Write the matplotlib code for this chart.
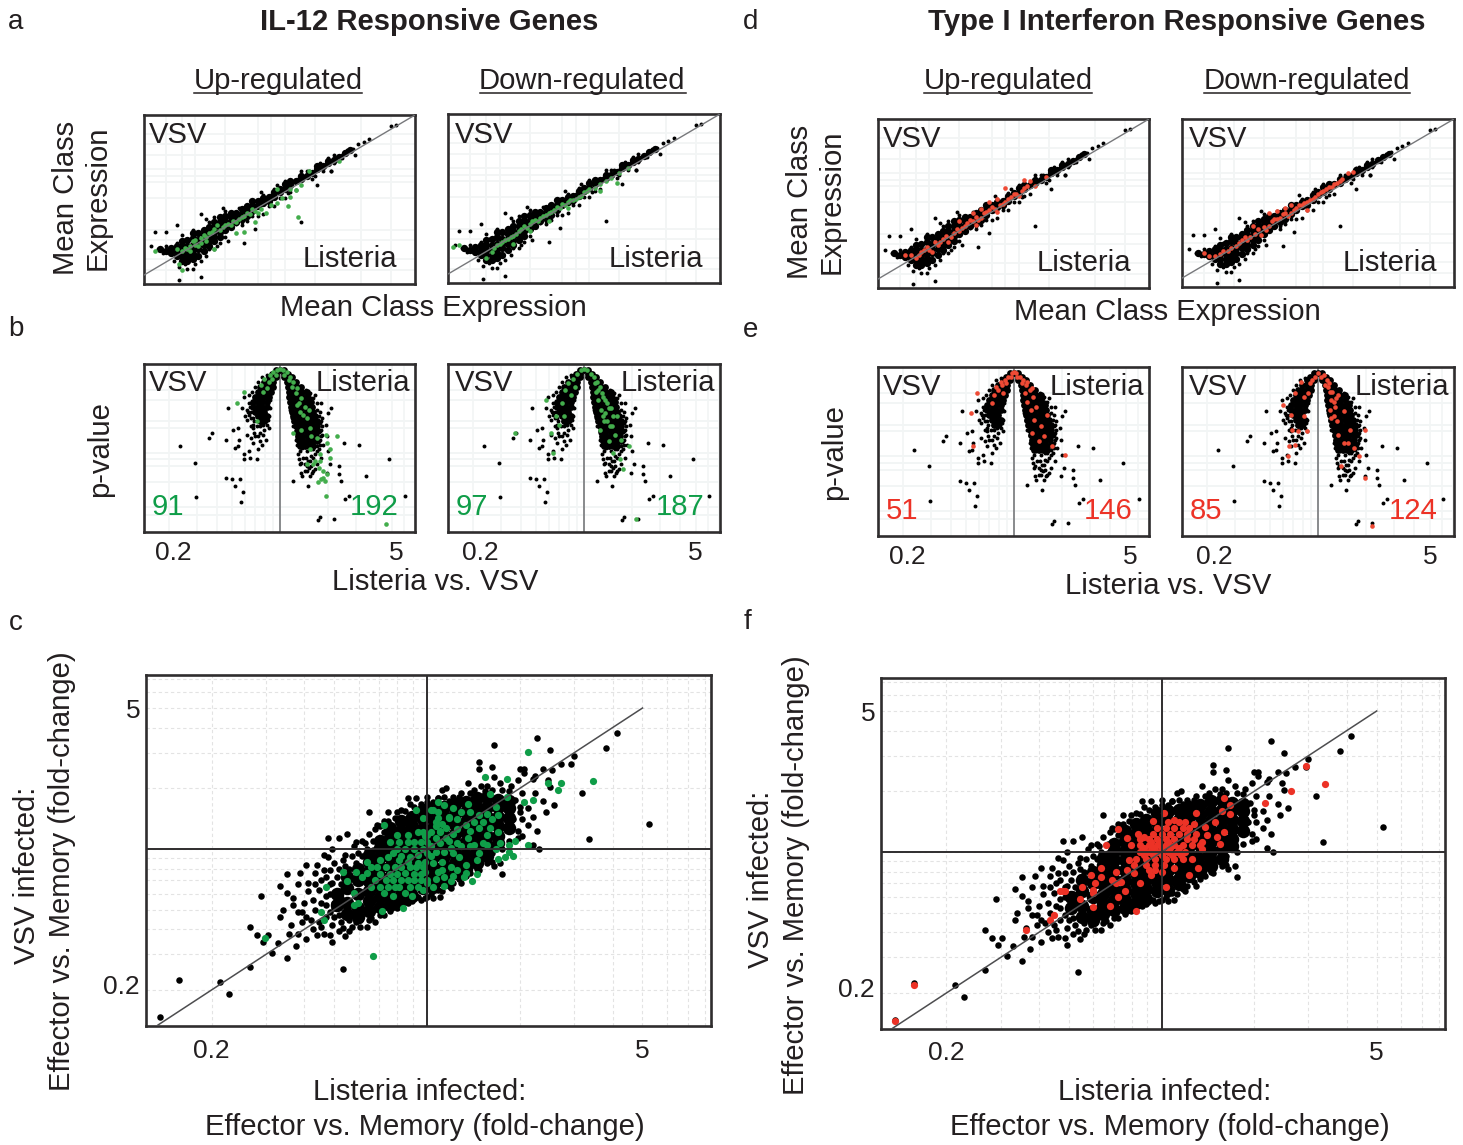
import numpy as np
import matplotlib
matplotlib.use("Agg")
import matplotlib.pyplot as plt
from matplotlib.lines import Line2D
from matplotlib.ticker import FixedLocator, NullFormatter
from matplotlib.transforms import ScaledTranslation

plt.rcParams['font.family'] = ['Liberation Sans', 'DejaVu Sans']

W, H = 1463, 1145
INK = '#231f20'
GREEN = '#0f9d48'
GREEN_SOFT = '#43ad4c'
RED = '#ec3226'
RED_SOFT = '#ee4a35'

# ---- fold-change scatter, both axes as percent of a log5 unit ----
# dense body, per x column: (x, [y...])
FC_BODY = [
    (-42, [-32, -40]), (-37, [-20, -28, -38, -46]), (-32, [-14, -22, -32, -42, -48]),
    (-27, [-4, -9, -16, -23, -30, -37, -44]), (-22, [6, 1, -6, -13, -20, -27, -34, -41]),
    (-17, [15, 8, 1, -6, -13, -20, -27, -34, -40]), (-12, [20, 13, 6, -1, -8, -15, -22, -29, -36]),
    (-7, [23, 16, 9, 2, -5, -12, -19, -26, -33]), (-2, [28, 21, 14, 7, 0, -7, -14, -21, -28]),
    (3, [29, 22, 15, 8, 1, -6, -13, -20, -27]), (8, [30, 23, 16, 9, 2, -5, -12, -19, -23]),
    (13, [32, 25, 18, 11, 4, -3, -10, -17]), (18, [33, 26, 19, 12, 5, -2, -9, -14]),
    (23, [36, 29, 22, 15, 8, 1, -6, -10]), (28, [37, 30, 23, 16, 9, 2, -5]),
    (33, [35, 30, 23, 16, 9, 4]), (38, [34, 29, 22, 15]),
]
FC_SPREAD = [
    (-124, -119), (-115, -93), (-96, -94), (-92, -103), (-82, -84), (-72, -74), (-65, -77), (-76, -66),
    (-79, -61), (-82, -55), (-74, -61), (-77, -33), (-68, -26), (-65, -31), (-65, -18), (-59, -17),
    (-56, -11), (-55, -24), (-62, -35), (-62, -40), (-67, -43), (-68, -48), (-57, -38), (-53, -36),
    (-58, -45), (-56, -48), (-63, -54), (-64, -60), (-60, -60), (-69, -67), (-61, -69), (-56, -64),
    (-53, -57), (-51, -61), (-48, -60), (-45, -61), (-44, -66), (-44, -54), (-39, -56), (-39, -85),
    (-51, -11), (-48, -4), (-46, 8), (-41, 8), (-37, 11), (-44, 0), (-46, -6), (-52, -17), (-50, -29),
    (-49, -38), (-52, -43), (-44, -24), (-27, 26), (-18, 26), (-14, 26), (-23, 17), (-27, 11), (-32, -3),
    (-39, -8), (-33, -52), (-26, -49), (-9, 36), (5, 36), (-14, -42), (-9, -38), (0, -34),
    (31, 74), (51, 79), (57, 70), (88, 82), (83, 72), (68, 66), (67, 60), (62, 60), (58, 56), (54, 57),
    (50, 52), (49, 50), (45, 57), (43, 57), (45, 54), (30, 58), (24, 62), (24, 57), (31, 51), (56, 49),
    (57, 44), (50, 40), (54, 34), (59, 31), (55, 26), (49, 23), (51, 13), (47, 29), (72, 40), (75, 7),
    (103, 18), (52, 0), (49, 3), (35, -18), (31, -12), (28, -6), (34, -10), (42, 13), (40, 21), (43, 26),
    (42, 49), (39, 45), (34, 47), (28, 45), (25, 45), (19, 47), (16, 40), (9, 43), (7, 42), (5, 36),
    (16, -24), (11, -28), (6, -34), (3, -35), (-1, -35), (5, -29), (-42, -20), (-41, -47), (-40, -52),
    (-36, -50), (-31, -55), (-24, -52), (-20, -47), (-43, -10), (-33, 5), (-29, 4), (-24, 14), (-20, 20),
    (-12, 28), (-6, 30), (0, 33), (12, 37), (44, 40), (47, 17), (44, 9), (30, -9), (24, -15), (18, -19),
    (12, -24), (-4, -34), (-11, -37),
]
FC_EDGE = [
    (-47, -20), (-47, -33), (-47, -40), (-45, -15), (-45, -25), (-45, -32), (-45, -45), (-43, -38), (-43, -42),
    (-43, -48), (-41, -14), (-41, -30), (-41, -58), (-38, -4), (-38, -12), (-38, -62), (-36, -58), (-35, -5),
    (-34, 2), (-30, 6), (-28, -55), (-25, 6), (-22, 16), (-18, 20), (-15, 22), (-10, 27), (-8, 32), (-3, 32),
    (-5, 36), (0, 37), (3, 33), (8, 37), (10, 34), (15, 37), (20, 40), (22, 42), (27, 41), (30, 42), (35, 42),
    (38, 41), (41, 35), (43, 30), (44, 21), (42, 8), (38, 6), (35, 0), (30, -3), (28, -10), (23, -14), (20, -17),
    (15, -21), (10, -26), (7, -30), (2, -32), (-3, -36), (-7, -37), (-14, -40), (-17, -44), (-22, -47), (-27, -50),
    (-31, -50), (-35, -55), (-60, -45), (-58, -52), (-54, -50), (-50, -52), (-47, -48), (-49, -55), (-60, -25),
    (-55, -30), (-52, -25), (-48, -15), (-49, -22), (-40, -25), (-40, -35), (-38, -18), (-36, -14), (-33, -10),
    (-30, -5), (-28, 0), (-25, -1), (-20, 12), (-37, -44), (-34, -47),
]
FC_GREEN = [
    (-20, 17), (-75, -63), (-25, -76), (-49, -45), (-48, -50), (-21, -44), (-11, -42), (-39, -16), (-47, -27),
    (-37, -23), (-33, -16), (-30, -20), (-34, -31), (-32, -38), (-34, -40), (-28, -9), (-20, -31), (-7, -33),
    (-17, 5), (-13, 5), (-9, 5), (-6, 5), (-3, 5), (0, 5), (-14, 0), (-10, 0), (-6, 0), (-2, 0),
    (-26, -13), (-23, -13), (-19, -13), (-15, -13), (-12, -13), (-8, -13), (-5, -13), (-2, -13),
    (-22, -18), (-17, -18), (-6, -18), (-3, -18), (-16, -22), (-12, -22), (-9, -22), (-6, -22), (-3, -22), (0, -22),
    (-22, -27), (-18, -27), (-15, -27), (-8, -27), (-4, -27), (-2, 22), (5, 22), (10, 22), (-2, 12), (2, 12), (6, 12),
    (-5, 28), (3, 28), (27, 51), (37, 50), (47, 69), (77, 48), (62, 47), (61, 42), (56, 47), (49, 35), (45, 33),
    (37, 37), (29, 39), (19, 32), (5, 33), (2, 28), (5, 26), (10, 23), (32, 30), (33, 24), (30, 21), (26, 19),
    (22, 19), (24, 15), (29, 15), (33, 12), (28, 10), (20, 13), (19, 8), (20, 2), (26, 4), (14, 21), (7, 18), (4, 19),
    (34, 4), (32, 0), (41, 6), (38, 3), (47, 3), (38, -2), (40, -5), (36, -6), (33, -7), (23, -8), (18, -11),
    (23, -18), (17, -20), (21, -23), (11, -13), (14, -15), (5, -16), (4, -21), (0, -24), (7, -9), (15, -6),
    (6, 4), (9, 8), (12, 11), (14, 4), (11, 1), (6, 13), (2, -5), (2, 2), (-1, 9), (-1, -9), (3, -10),
    (-16, -3), (-12, -5), (-8, -6), (-4, -4), (0, -3), (4, -2), (8, -2), (12, -3), (16, 2), (10, 6), (4, 8), (0, 10),
    (-4, 12), (-9, 10), (-14, 10), (4, 16), (9, 15), (14, 14), (18, 17), (24, 24), (28, 25), (20, 26), (16, 26), (12, 29),
    (8, 31), (22, 3), (24, -3), (28, 3), (18, -17), (12, -19), (8, -20), (7, -15), (-1, -16), (-10, -17), (-14, -18),
    (-19, -22), (-24, -22), (-13, -27), (-2, -29), (3, -27), (8, -26), (11, -23), (-10, -31), (-16, -33), (-26, -27),
    (-28, -17), (-4, -10), (-9, -9), (-13, -8), (-18, -6), (-22, -8),
]
FC_RED = [
    (-115, -94), (-124, -120), (-63, -55), (-50, -45), (-52, -48), (-46, -28), (-47, -28), (-20, 16), (-26, 5),
    (-4, 22), (1, 28), (-11, 13), (16, 28), (29, 38), (32, 33), (32, 27), (28, 29), (48, 35), (60, 43), (67, 61),
    (76, 48), (25, 21), (29, 14), (26, 11), (27, 6), (20, 18), (19, 7), (19, 2), (17, -11), (13, -16), (6, -11),
    (2, -25), (-10, -22), (-12, -42), (0, -14), (-6, -13), (-13, -15), (-16, -13), (-15, -6), (-28, -11), (-21, -14),
    (-33, -16), (-28, -18), (-31, -22), (-23, -20), (-19, -21), (-21, -22), (-37, -25), (-32, -27), (-32, -29),
    (-17, -28), (-20, -32), (-38, -33), (-32, -39), (-24, -38), (-45, -28), (-16, 10),
    (-10, 9), (-6, 9), (-2, 9), (2, 9), (6, 9), (12, 9), (15, 9), (-14, 5), (-10, 5), (-6, 5), (-2, 5), (2, 5),
    (6, 5), (10, 5), (14, 5), (18, 5), (-10, 0), (-6, 0), (-2, 0), (3, 0), (7, 0), (11, 0), (-12, -5), (-7, -5),
    (-3, -5), (2, -5), (6, -5), (10, -5), (14, -5), (-7, -9), (-3, -9), (1, -9), (-4, 13), (0, 13), (4, 13), (8, 13),
    (12, 13), (16, 13), (-2, 17), (2, 17), (6, 17), (10, 17), (13, 17), (3, 21), (8, 21), (11, 21),
    (-8, 3), (-4, 3), (0, 3), (4, 3), (8, 3), (-8, -2), (-4, -2), (0, -2), (5, -2), (9, -2), (-5, 7), (-1, 7), (3, 7),
    (-13, -9), (-5, -16), (-3, -13), (-8, 11), (21, 12), (15, 20), (6, 23),
]

# ---- mean class expression, arbitrary log units ----
MA_BODY = [
    (6, [16]), (8, [15]), (10, [14, 17]), (12, [12, 15, 18]), (14, [9, 12, 15, 18, 21]), (16, [9, 12, 15, 18, 22]),
    (18, [10, 13, 16, 19, 23, 26]), (20, [12, 16, 19, 22, 26]), (22, [15, 19, 22, 25, 28]), (24, [18, 21, 24, 27, 30]),
    (26, [21, 24, 27, 30, 33]), (28, [24, 27, 30, 33, 36]), (30, [28, 31, 34, 37]), (32, [30, 33, 36, 39]),
    (34, [33, 36, 39]), (36, [35, 38, 41]), (38, [37, 40, 43]), (40, [40, 43, 46]), (42, [43, 46]), (44, [45, 48]),
    (46, [46, 49]), (48, [49, 52]), (50, [52, 54]), (52, [54, 57]), (54, [56, 59]), (56, [59]), (58, [60, 62]),
    (60, [62]), (62, [64]), (64, [66, 68]), (66, [68]), (68, [70, 71]), (70, [72]), (72, [74]), (74, [76]), (76, [78]),
]
MA_SPREAD = [
    (2.5, 18), (4, 27), (8, 27), (12, 31), (13, -3), (21, -1), (14, 25), (18, 4), (15, 7), (21, 38), (23, 35), (29, 42),
    (31, 21), (37, 20), (27, 18), (26, 16), (43, 52), (41, 29), (58, 33), (49, 56), (58, 65), (64, 56), (69, 65), (78, 75),
    (79, 82), (83, 85), (91, 93), (93, 94), (81, 83), (74, 76), (24, 30), (32, 37), (35, 42), (38, 34), (21, 9), (24, 16),
    (28, 20), (17, 10), (11, 9), (13, 5), (7, 14), (5, 16), (8, 18), (12, 20), (15, 22), (18, 28), (34, 32), (44, 38),
    (46, 45), (53, 51), (56, 59), (61, 65), (65, 70), (70, 75), (75, 78), (69, 65), (16, 4), (19, 7), (23, 12), (30, 24),
    (36, 31), (42, 37), (48, 43), (52, 48), (56, 53), (62, 60),
    (59, 61), (61, 63), (63, 65), (65, 67), (67, 69), (69, 71), (71, 73), (73, 75), (75, 77), (77, 79), (63, 62), (66, 65),
    (70, 70), (73, 73), (60, 65), (64, 69), (68, 73), (41, 44), (43, 46), (45, 47), (47, 50), (49, 52), (51, 54), (53, 56),
    (55, 58), (57, 60), (39, 42), (37, 40), (35, 37), (33, 35), (31, 33), (29, 31), (46, 43), (50, 48), (54, 52), (40, 37),
    (36, 33), (44, 50), (48, 54), (52, 59), (26, 36), (24, 33), (30, 40),
]
MA_GREEN_UP = [
    (57, 36), (4, 15), (13, 7), (14, 3), (26, 16), (41, 33), (37, 27), (49, 45), (54, 49), (61, 65), (72, 71), (53, 43),
    (45, 39), (42, 39), (17, 18), (18, 21), (19, 22), (21, 23), (22, 25), (24, 26), (26, 29), (27, 31), (29, 30), (31, 32),
    (33, 34), (35, 35), (38, 39), (40, 41), (12, 16), (14, 15), (16, 16), (20, 18), (23, 21), (34, 26), (49, 54), (54, 54), (58, 56),
    (15, 17), (17, 15), (19, 19), (21, 20), (23, 24), (25, 27), (28, 28), (30, 31), (32, 31), (34, 33), (36, 36), (37, 37), (39, 38),
    (41, 40), (43, 41), (47, 44), (51, 48), (56, 53),
]
MA_GREEN_DOWN = [
    (2, 17), (4, 18), (16, 14), (18, 18), (20, 20), (22, 22), (24, 24), (26, 27), (28, 30), (30, 31), (32, 34), (34, 35),
    (36, 37), (38, 39), (40, 42), (42, 44), (44, 45), (46, 46), (48, 48), (50, 51), (52, 53), (54, 54), (56, 56), (58, 58),
    (60, 60), (63, 63), (56, 52), (62, 57), (66, 66), (24, 19), (30, 27), (37, 33), (44, 41), (14, 10),
    (17, 16), (19, 19), (21, 21), (23, 23), (25, 25), (27, 28), (29, 29), (31, 33), (33, 33), (35, 36), (37, 38), (39, 40),
    (41, 41), (43, 43), (45, 46), (47, 47), (49, 49), (51, 52),
]
MA_RED_UP = [
    (10, 15), (14, 13), (16, 17), (18, 20), (20, 17), (22, 21), (24, 25), (26, 23), (28, 29), (30, 30), (32, 33), (34, 37),
    (36, 34), (38, 38), (40, 42), (42, 45), (44, 42), (46, 47), (48, 50), (50, 53), (52, 52), (54, 57), (56, 61), (58, 58),
    (41, 48), (47, 57), (54, 62), (62, 64), (36, 39), (30, 36),
    (12, 15), (15, 15), (17, 18), (19, 18), (21, 23), (23, 23), (25, 27), (27, 26), (29, 31), (31, 32), (33, 35), (35, 36),
    (37, 37), (39, 41), (41, 43), (43, 44), (45, 46), (47, 48), (49, 51), (51, 53), (53, 55), (55, 58), (35, 41), (38, 44), (44, 50),
]
MA_RED_DOWN = [
    (8, 16), (12, 14), (15, 17), (18, 19), (21, 22), (23, 26), (25, 26), (28, 31), (31, 30), (33, 36), (35, 37), (37, 40),
    (39, 39), (41, 43), (43, 46), (45, 47), (47, 49), (49, 51), (51, 54), (53, 56), (55, 57), (57, 60), (59, 62), (61, 66),
    (38, 44), (32, 41), (26, 33), (46, 43), (63, 67), (29, 27),
    (10, 14), (14, 15), (17, 17), (20, 20), (22, 24), (24, 24), (27, 28), (30, 32), (32, 33), (34, 37), (36, 38), (38, 41),
    (40, 41), (42, 44), (44, 46), (46, 48), (48, 50), (50, 53), (52, 55), (54, 57), (56, 59), (58, 61), (35, 42), (40, 46),
]

# ---- volcano: fold-change as percent of a log5 unit, depth = significance ----
VOL_BODY = [
    (2, [-4, 0, 4]), (4, [-7, -4, 4, 7]), (6, [-10, -7, -4, 4, 8, 11]), (9, [-14, -10, -6, 6, 10, 14]),
    (12, [-18, -14, -10, -6, 7, 11, 15, 19]), (15, [-20, -16, -12, -8, 8, 12, 16, 20, 24]),
    (18, [-22, -18, -14, -10, 8, 12, 16, 20, 24]), (21, [-24, -20, -16, -12, 9, 13, 17, 21, 25, 28]),
    (24, [-24, -20, -16, -12, 10, 14, 18, 22, 26, 29]), (27, [-22, -18, -14, 11, 15, 19, 23, 27, 30]),
    (30, [-20, -16, -12, 12, 16, 20, 24, 28, 31]), (33, [-18, -14, 13, 17, 21, 25, 29, 33]),
    (36, [14, 18, 22, 26, 30, 33]), (39, [15, 19, 23, 27, 31, 34]), (42, [16, 20, 24, 28, 32]),
    (45, [17, 21, 25, 29, 33]), (48, [18, 22, 26, 30]),
]
VOL_SPREAD = [
    (-90, 48), (-76, 58), (-75, 79), (-64, 43), (-61, 40), (-48, 44), (-47, 25), (-42, 38), (-38, 37), (-37, 44), (-38, 48),
    (-40, 49), (-48, 67), (-43, 68), (-40, 72), (-36, 68), (-33, 76), (-35, 82), (-32, 56), (-32, 53), (-28, 51), (-27, 55),
    (-21, 56), (-20, 50), (-30, 41), (-26, 43), (-20, 42), (-15, 41), (-24, 46), (-34, 25), (-32, 18), (-28, 29), (-24, 31),
    (-12, 35), (-17, 34), (-21, 36), (-11, 32), (-30, 32), (-28, 22), (-26, 27), (-24, 37), (-14, 38), (-18, 45), (-23, 40),
    (12, 69), (25, 72), (34, 93), (36, 91), (48, 92), (58, 80), (62, 78), (112, 78), (98, 56), (77, 66), (71, 47), (57, 46),
    (55, 69), (53, 65), (53, 60), (45, 59), (42, 64), (37, 22), (46, 25), (43, 28), (36, 27), (41, 35), (42, 42), (37, 38),
    (43, 51), (19, 64), (22, 63), (30, 63), (31, 62), (18, 59), (21, 55), (18, 51), (15, 47), (25, 57), (33, 59), (37, 55),
    (33, 51), (39, 47), (28, 19), (31, 17), (27, 16), (38, 31), (20, 49), (24, 51), (28, 50), (30, 55), (26, 61), (22, 59),
    (35, 45), (37, 42), (36, 34), (15, 43), (16, 53), (28, 54),
    (10, 10), (14, 9), (19, 12), (23, 14), (26, 17), (30, 19), (33, 22), (33, 26), (35, 30), (37, 33), (38, 36), (36, 39),
    (38, 41), (36, 44), (36, 47), (33, 48), (30, 50), (27, 47), (23, 48), (19, 46), (14, 44), (14, 40), (12, 36), (11, 31),
    (9, 26), (31, 53), (27, 57), (23, 55), (19, 58), (17, 56), (24, 60), (28, 60), (35, 50), (29, 64), (24, 63), (20, 66),
    (27, 66), (-28, 17), (-25, 15), (-22, 12), (-20, 9), (-16, 6), (-12, 5), (-27, 24), (-29, 27), (-26, 31), (-23, 33),
    (-21, 30), (-19, 33), (-15, 35), (-10, 30), (-9, 25), (-9, 20), (-24, 35), (-18, 40), (-22, 42), (-16, 47), (-13, 44),
    (-26, 36), (-30, 26), (-31, 30), (-10, 37), (-13, 33), (-18, 36),
]
VOL_GREEN_UP = [
    (-32, 15), (-39, 22), (51, 42), (41, 78), (95, 95), (40, 69), (39, 67), (42, 65), (34, 70), (37, 68), (39, 63), (35, 61),
    (30, 59), (36, 57), (45, 55), (45, 50), (36, 53), (42, 46), (41, 41), (28, 42), (33, 43), (27, 50), (24, 59), (31, 57),
    (15, 13), (12, 9), (9, 6), (6, 3), (-6, 3), (-9, 5), (-14, 7), (-12, 13), (-3, 2), (3, 2), (18, 27), (21, 29), (15, 23),
    (19, 19), (24, 31), (12, 40), (19, 38), (27, 37), (-21, 33), (-15, 15), (0, 1), (-4, 5), (4, 5), (8, 8), (-7, 7), (-10, 9),
    (11, 12), (14, 16), (17, 22), (22, 24), (26, 26), (-17, 11),
]
VOL_GREEN_DOWN = [
    (-62, 40), (-28, 52), (47, 92), (-22, 35), (-3, 2), (3, 2), (-6, 4), (6, 4), (-10, 7), (9, 6), (-14, 10), (12, 9), (-17, 14),
    (14, 12), (-12, 17), (16, 16), (-20, 22), (19, 20), (11, 15), (13, 20), (15, 26), (19, 28), (22, 25), (26, 30), (18, 33),
    (23, 36), (14, 38), (28, 41), (33, 44), (-25, 30), (-30, 40), (-18, 30), (-34, 20), (-8, 12), (30, 30), (22, 45),
    (26, 52), (32, 56), (35, 62), (40, 48), (0, 1), (10, 10), (13, 14), (17, 18), (21, 22), (24, 25), (17, 30), (21, 33), (25, 36),
]
VOL_RED_UP = [
    (-39, 26), (-37, 46), (46, 51), (-2, 2), (2, 2), (-5, 4), (5, 4), (-8, 6), (8, 6), (-11, 9), (11, 9), (-14, 12), (14, 12),
    (-18, 15), (-10, 14), (10, 14), (17, 16), (12, 19), (-20, 20), (-33, 14), (15, 24), (20, 22), (18, 30), (24, 34), (16, 38),
    (22, 43), (30, 27), (27, 40), (34, 46), (0, 1), (-3, 4), (3, 4), (-7, 8), (7, 8), (-12, 7), (12, 7), (-16, 10), (16, 11),
]
VOL_RED_DOWN = [
    (-31, 21), (-24, 27), (-23, 36), (-18, 37), (-10, 37), (-13, 28), (-21, 45), (-26, 46), (-27, 52), (-21, 14), (-13, 16),
    (-9, 14), (-15, 7), (-7, 8), (-3, 4), (3, 4), (8, 6), (11, 13), (18, 15), (14, 19), (11, 24), (14, 28), (23, 25), (29, 36),
    (42, 36), (18, 39), (23, 44), (27, 44), (32, 47), (37, 52), (21, 58), (42, 65), (48, 94), (0, 2), (6, 9), (9, 10), (12, 18),
    (-5, 6), (5, 3), (10, 8), (13, 13), (16, 17), (15, 22), (12, 29), (17, 31),
]

LOG_MINOR = [0.1 * k for k in range(2, 10)] + [float(k) for k in range(1, 9)]


def rows_to_xy(rows, swap=False):
    xs, ys = [], []
    for a, bs in rows:
        for b in bs:
            xs.append(b if swap else a)
            ys.append(a if swap else b)
    return np.array(xs, float), np.array(ys, float)


def pairs(p):
    a = np.array(p, float)
    return a[:, 0], a[:, 1]


def fc(v):
    return 5.0 ** (np.asarray(v, float) / 100.0)


fig = plt.figure(figsize=(W / 100, H / 100), dpi=100, facecolor='white')


def make_ax(l, t, r, b):
    ax = fig.add_axes([l / W, 1 - b / H, (r - l) / W, (b - t) / H])
    for s in ax.spines.values():
        s.set_linewidth(1.9)
        s.set_color('#2f2d2e')
    ax.tick_params(which='both', length=0)
    ax.set_axisbelow(True)
    return ax


def label(x, y, s, **kw):
    kw.setdefault('fontsize', 21.1)
    kw.setdefault('color', INK)
    kw.setdefault('ha', 'center')
    kw.setdefault('va', 'center')
    if kw.get('rotation') == 90:
        x += 2
    else:
        y += 2
    return fig.text(x / W, 1 - y / H, s, **kw)


def ma_panel(l, t, r, b, hl, col):
    ax = make_ax(l, t, r, b)
    ax.set_xlim(0, 100)
    ax.set_ylim(-5.6, 100)
    ax.set_xticks([]); ax.set_yticks([])
    for v in [8, 14, 19, 30, 42, 47, 52, 63, 80, 91]:
        ax.axvline(v, color='#f2f5f5', lw=1.3, zorder=0)
    for v in [3, 10, 22, 28, 48, 58, 62, 66, 75, 82, 88]:
        ax.axhline(v, color='#f2f5f5', lw=1.3, zorder=0)
    x, y = rows_to_xy(MA_BODY)
    ax.scatter(x, y, s=28, color='black', lw=0, zorder=2)
    x, y = pairs(MA_SPREAD)
    ax.scatter(x, y, s=8, color='black', lw=0, zorder=2)
    x, y = pairs(hl)
    ax.scatter(x, y, s=11, color=col, lw=0, zorder=3)
    ax.plot([0, 100], [0, 100], color='#77787b', lw=1.0, zorder=4)
    return ax


def vol_panel(l, t, r, b, hl, col, cx, tick_shift):
    ax = make_ax(l, t, r, b)
    half_l = (cx - l) / 111.5
    half_r = (r - cx) / 111.5
    ax.set_xscale('log')
    ax.set_xlim(5.0 ** (-half_l), 5.0 ** half_r)
    ax.set_ylim(100, -1.8)
    ax.set_yticks([])
    ax.xaxis.set_major_locator(FixedLocator([0.2, 5]))
    ax.xaxis.set_minor_formatter(NullFormatter())
    ax.set_xticklabels(['0.2', '5'], fontsize=19, color=INK)
    ax.tick_params(axis='x', pad=6.5)
    for t_lab, dx in zip(ax.get_xticklabels(), tick_shift):
        t_lab.set_transform(t_lab.get_transform() + ScaledTranslation(dx / 100, 0, fig.dpi_scale_trans))
    for v in LOG_MINOR:
        ax.axvline(v, color='#f2f5f5', lw=1.2, zorder=0)
    for v in [14, 20, 33, 37, 52, 56, 60, 70, 85, 90]:
        ax.axhline(v, color='#f2f5f5', lw=1.4, zorder=0)
    ax.axvline(1, color='#77787b', lw=1.2, zorder=1)
    d, x = rows_to_xy(VOL_BODY)
    ax.scatter(fc(x), d, s=24, color='black', lw=0, zorder=2)
    x, d = pairs(VOL_SPREAD)
    ax.scatter(fc(x), d, s=8, color='black', lw=0, zorder=2)
    x, d = pairs(hl)
    ax.scatter(fc(x), d, s=11, color=col, lw=0, zorder=3)
    return ax


def fc_panel(l, t, r, b, hl, col):
    ax = make_ax(l, t, r, b)
    ax.set_xscale('log'); ax.set_yscale('log')
    ax.set_xlim(0.1226, 8.34)
    ax.set_ylim(0.1326, 7.29)
    ax.xaxis.set_major_locator(FixedLocator([0.2, 5]))
    ax.yaxis.set_major_locator(FixedLocator([0.2, 5]))
    ax.xaxis.set_minor_formatter(NullFormatter())
    ax.yaxis.set_minor_formatter(NullFormatter())
    ax.set_xticklabels(['0.2', '5'], fontsize=19, color=INK)
    ax.set_yticklabels(['0.2', '5'], fontsize=19, color=INK)
    ax.tick_params(axis='x', pad=9)
    ax.tick_params(axis='y', pad=4)
    ylabs = ax.get_yticklabels()
    ylabs[0].set_transform(ylabs[0].get_transform() + ScaledTranslation(-1 / 100, 5 / 100, fig.dpi_scale_trans))
    for v in LOG_MINOR:
        ax.axvline(v, color='#e3e3e3', lw=0.8, ls=(0, (3, 2.5)), zorder=0)
        ax.axhline(v, color='#e3e3e3', lw=0.8, ls=(0, (3, 2.5)), zorder=0)
    x, y = rows_to_xy(FC_BODY)
    ax.scatter(fc(x), fc(y), s=95, color='black', lw=0, zorder=2)
    x, y = pairs(FC_SPREAD)
    ax.scatter(fc(x), fc(y), s=22, color='black', lw=0, zorder=2)
    x, y = pairs(FC_EDGE)
    ax.scatter(fc(x), fc(y), s=22, color='black', lw=0, zorder=2)
    x, y = pairs(hl)
    ax.scatter(fc(x), fc(y), s=27, color=col, lw=0, zorder=3)
    ax.plot([0.134, 5], [0.134, 5], color='#4d4d4f', lw=1.1, zorder=4)
    ax.axvline(1, color='#2f2d2e', lw=1.4, zorder=4)
    ax.axhline(1, color='#2f2d2e', lw=1.4, zorder=4)
    return ax


# ---- panels a, b, c ----
ma_panel(144, 115, 415, 284, MA_GREEN_UP, GREEN_SOFT)
ma_panel(448, 114, 720, 283, MA_GREEN_DOWN, GREEN_SOFT)
vol_panel(144, 364, 415, 532, VOL_GREEN_UP, GREEN_SOFT, 280, (4.5, 4.5))
vol_panel(448, 364, 720, 532, VOL_GREEN_DOWN, GREEN_SOFT, 584, (7.5, 0))
fc_panel(146, 675, 711, 1026, FC_GREEN, GREEN)

# ---- panels d, e, f ----
ma_panel(878, 119, 1149, 288, MA_RED_UP, RED_SOFT)
ma_panel(1182, 119, 1454, 287, MA_RED_DOWN, RED_SOFT)
vol_panel(878, 367, 1149, 536, VOL_RED_UP, RED_SOFT, 1014, (4.5, 4.5))
vol_panel(1182, 367, 1454, 536, VOL_RED_DOWN, RED_SOFT, 1318, (7.5, 1))
fc_panel(881, 678, 1445, 1029, FC_RED, RED)

# ---- text ----
for x, y, s in [(16, 20, 'a'), (751, 20, 'd'), (16, 327, 'b'), (751, 328, 'e'), (16, 621, 'c'), (747, 620, 'f')]:
    label(x, y, s, fontsize=20)

label(429, 20, 'IL-12 Responsive Genes', fontweight='bold')
label(1177, 20, 'Type I Interferon Responsive Genes', fontweight='bold')

for x, x0, x1, s in [(278, 194, 362, 'Up-regulated'), (582, 480, 686, 'Down-regulated'),
                     (1008, 924, 1092, 'Up-regulated'), (1307, 1204, 1410, 'Down-regulated')]:
    label(x, 79, s)
    fig.add_artist(Line2D([x0 / W, x1 / W], [1 - 93 / H] * 2, color=INK, lw=1.1))

label(80, 198, 'Mean Class\nExpression', rotation=90, linespacing=1.15)
label(814, 202, 'Mean Class\nExpression', rotation=90, linespacing=1.15)
label(433, 306, 'Mean Class Expression')
label(1167, 310, 'Mean Class Expression')
label(98, 449, 'p-value', rotation=90)
label(832, 452, 'p-value', rotation=90)
label(435, 580, 'Listeria vs. VSV')
label(1168, 584, 'Listeria vs. VSV')

for l, vy, lr, ly in [(149, 133, 397, 257), (455, 133, 703, 257), (883, 137, 1131, 261), (1189, 137, 1437, 261)]:
    label(l, vy, 'VSV', ha='left')
    label(lr, ly, 'Listeria', ha='right')
for l, lr, y in [(149, 410, 381), (455, 715, 381), (883, 1144, 385), (1189, 1449, 385)]:
    label(l, y, 'VSV', ha='left')
    label(lr, y, 'Listeria', ha='right')
for x, r, y, a, b, col in [(152, 399, 505, '91', '192', GREEN), (456, 704, 505, '97', '187', GREEN),
                           (886, 1133, 509, '51', '146', RED), (1190, 1438, 509, '85', '124', RED)]:
    label(x, y, a, ha='left', color=col)
    label(r, y, b, ha='right', color=col)

label(25, 875, 'VSV infected:', rotation=90)
label(60, 871, 'Effector vs. Memory (fold-change)', rotation=90)
label(759, 879, 'VSV infected:', rotation=90)
label(794, 875, 'Effector vs. Memory (fold-change)', rotation=90)
label(420, 1090, 'Listeria infected:')
label(425, 1125, 'Effector vs. Memory (fold-change)')
label(1165, 1090, 'Listeria infected:')
label(1170, 1125, 'Effector vs. Memory (fold-change)')

fig.savefig('out.png', dpi=100, facecolor='white')
